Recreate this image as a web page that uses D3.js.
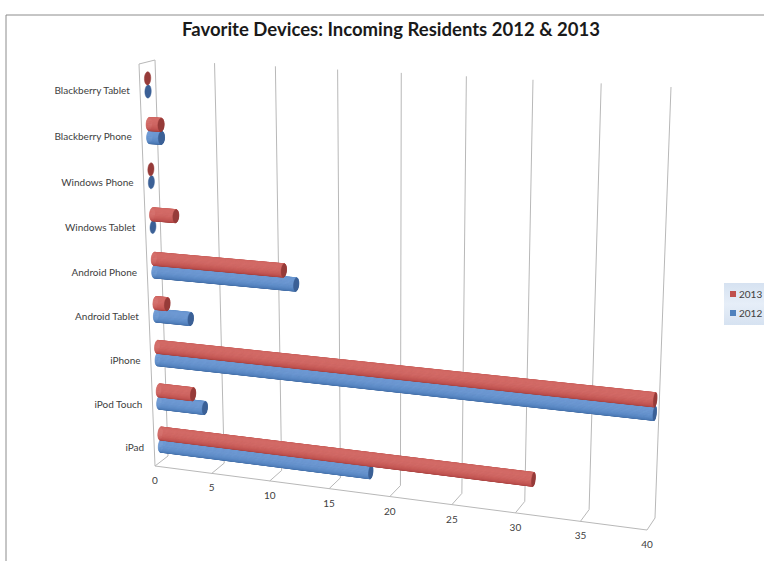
<!DOCTYPE html>
<html>
<head>
<meta charset="utf-8">
<script src="https://cdn.jsdelivr.net/npm/d3@7"></script>
<style>
  body { margin: 0; background: #fff; }
  text { font-family: Lato, "Open Sans", sans-serif; fill: #404040; }
</style>
</head>
<body>
<svg id="chart" width="764" height="561"></svg>
<script>
// data
const categories = ["Blackberry Tablet", "Blackberry Phone", "Windows Phone", "Windows Tablet",
  "Android Phone", "Android Tablet", "iPhone", "iPod Touch", "iPad"];
const values2013 = [0, 1, 0, 2, 11, 1, 40, 3, 31];
const values2012 = [0, 1, 0, 0, 12, 3, 40, 4, 18];
const seriesNames = ["2013", "2012"];
const valueTicks = [0, 5, 10, 15, 20, 25, 30, 35, 40];

const width = 764, height = 561;
const svg = d3.select("#chart");

// corners of the 3d box on screen (back wall / front plane)
const back = { tl: [155, 60], tr: [671, 87], bl: [168, 456], br: [655, 518] };
const front = { tl: [139, 64], tr: [660, 93], bl: [155, 466], br: [647, 530] };

// perspective-ish warps along value and category direction
const warp = (t, b) => t * (1 + b) / (1 + b * t);

function bilin(c, s, t) {
    const top = [c.tl[0] + (c.tr[0] - c.tl[0]) * s, c.tl[1] + (c.tr[1] - c.tl[1]) * s];
    const bot = [c.bl[0] + (c.br[0] - c.bl[0]) * s, c.bl[1] + (c.br[1] - c.bl[1]) * s];
    return [top[0] + (bot[0] - top[0]) * t, top[1] + (bot[1] - top[1]) * t];
}

// u: value 0..1, w: category 0..1 (top to floor), d: depth 0 front .. 1 back
function project(u, w, d) {
    const s = warp(u, -0.087), t = warp(w, 0.037);
    const b = bilin(back, s, t), f = bilin(front, s, t);
    return [f[0] + (b[0] - f[0]) * d, f[1] + (b[1] - f[1]) * d];
}

const xScale = d3.scaleLinear().domain([0, 40]).range([0, 1]);
const yScale = d3.scaleBand().domain(categories).range([0, 1]);
const subScale = d3.scaleBand().domain(seriesNames).range([0, yScale.bandwidth()])
    .paddingInner(0).paddingOuter(0.75);

const line = d3.line();
const gridColor = "#b8b8b8";

// outer chart border (right/bottom fall outside the picture)
svg.append("path")
    .attr("d", `M6,${height + 5}V15H${width + 5}`)
    .attr("fill", "none").attr("stroke", "#8c8c8c").attr("stroke-width", 1);

// title
svg.append("text")
    .attr("x", 391).attr("y", 36)
    .attr("text-anchor", "middle")
    .attr("font-size", 18).attr("font-weight", "bold")
    .attr("textLength", 418).attr("lengthAdjust", "spacingAndGlyphs")
    .style("fill", "#1a1a1a")
    .text("Favorite Devices: Incoming Residents 2012 & 2013");

const grid = svg.append("g").attr("fill", "none").attr("stroke", gridColor).attr("stroke-width", 1);

// side wall at value 0
grid.append("path").attr("d", line([
    project(0, 1, 0), project(0, 0, 0), project(0, 0, 1), project(0, 1, 1), project(0, 1, 0)
]));

// back wall gridlines running onto the floor
grid.selectAll(".gl")
    .data(valueTicks.filter(v => v > 0))
    .join("path")
    .attr("d", v => line([
        project(xScale(v), 0, 1), project(xScale(v), 1, 1), project(xScale(v), 1, 0)
    ]));

// floor front edge
grid.append("path").attr("d", line([project(0, 1, 0), project(1, 1, 0)]));

// value labels
svg.selectAll(".tick")
    .data(valueTicks)
    .join("text")
    .attr("x", v => project(xScale(v), 1, 0)[0])
    .attr("y", v => project(xScale(v), 1, 0)[1] + 18)
    .attr("text-anchor", "middle")
    .attr("font-size", 10)
    .text(v => v);

// category labels
svg.selectAll(".cat")
    .data(categories)
    .join("text")
    .attr("x", c => project(0, yScale(c) + yScale.bandwidth() / 2, 0)[0] - 10)
    .attr("y", c => project(0, yScale(c) + yScale.bandwidth() / 2, 0)[1] + 7)
    .attr("text-anchor", "end")
    .attr("font-size", 10)
    .text(c => c);

// cylinders
const palette = {
    "2013": { ramp: d3.interpolateRgbBasis(["#8a3230", "#c0504d", "#d46c68"]), cap: "#963b39" },
    "2012": { ramp: d3.interpolateRgbBasis(["#31558a", "#4f81bd", "#6f9ad4"]), cap: "#3b6096" }
};
const N = 36;
const rD = 0.2;
const camAngle = -2.0, lightAngle = -2.4;

function drawCylinder(g, cat, series, value) {
    const bw = subScale.bandwidth();
    const wc = yScale(cat) + subScale(series) + bw / 2;
    const rw = bw / 2;
    const u1 = xScale(value);
    const col = palette[series];
    const pt = (u, th) => project(u, wc + rw * Math.cos(th), 0.5 + rD * Math.sin(th));

    if (u1 > 0) {
        const strips = d3.range(N).map(i => {
            const a0 = i / N * 2 * Math.PI, a1 = (i + 1) / N * 2 * Math.PI, am = (a0 + a1) / 2;
            return { a0, a1, key: Math.cos(am - camAngle), shade: 0.5 + 0.5 * Math.cos(am - lightAngle) };
        }).sort((a, b) => a.key - b.key);

        g.selectAll(null)
            .data(strips)
            .join("path")
            .attr("d", s => line([pt(0, s.a0), pt(u1, s.a0), pt(u1, s.a1), pt(0, s.a1)]) + "Z")
            .attr("fill", s => col.ramp(s.shade))
            .attr("stroke", s => col.ramp(s.shade))
            .attr("stroke-width", 0.6);
    }
    // end cap
    g.append("path")
        .attr("d", line(d3.range(N).map(i => pt(u1, i / N * 2 * Math.PI))) + "Z")
        .attr("fill", col.cap)
        .attr("stroke", col.cap).attr("stroke-width", 0.5);
}

const bars = svg.append("g");
categories.forEach((c, i) => {
    drawCylinder(bars.append("g"), c, "2012", values2012[i]);
    drawCylinder(bars.append("g"), c, "2013", values2013[i]);
});

// legend
const legend = svg.append("g").attr("transform", "translate(724,283)");
const lg = svg.append("defs").append("linearGradient").attr("id", "lgbg")
    .attr("x1", 0).attr("y1", 0).attr("x2", 0).attr("y2", 1);
lg.append("stop").attr("offset", 0).attr("stop-color", "#d6e2f1");
lg.append("stop").attr("offset", 0.5).attr("stop-color", "#e6eef8");
lg.append("stop").attr("offset", 1).attr("stop-color", "#d6e2f1");
legend.append("rect").attr("width", 50).attr("height", 42).attr("fill", "url(#lgbg)");
seriesNames.forEach((s, i) => {
    legend.append("rect")
        .attr("x", 6).attr("y", 8 + i * 19)
        .attr("width", 6).attr("height", 6)
        .attr("fill", s === "2013" ? "#c0504d" : "#4f81bd");
    legend.append("text")
        .attr("x", 15).attr("y", 15 + i * 19)
        .attr("font-size", 10)
        .text(s);
});
</script>
</body>
</html>
